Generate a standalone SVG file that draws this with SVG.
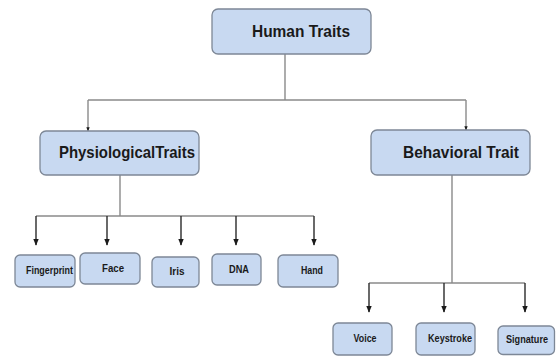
<svg xmlns="http://www.w3.org/2000/svg" width="556" height="356" viewBox="0 0 556 356">
<style>
.box{fill:#c8d9f1;stroke:#7d8796;stroke-width:1.3}
.t1{font-family:"Liberation Sans",Arial,sans-serif;font-weight:bold;font-size:17px;fill:#1a1a1a;text-anchor:middle}
.t2{font-family:"Liberation Sans",Arial,sans-serif;font-weight:bold;font-size:10.5px;fill:#1a1a1a;text-anchor:middle}
.ln{stroke:#8a8a8a;stroke-width:1.4;fill:none}
.ar{stroke:#2a2a2a;stroke-width:1.4;fill:none}
</style>
<defs>
<marker id="ah" viewBox="0 0 10 10" refX="9" refY="5" markerWidth="5" markerHeight="5" orient="auto"><path d="M0,1 L10,5 L0,9 Z" fill="#1a1a1a"/></marker>
<marker id="sm" viewBox="0 0 10 10" refX="9" refY="5" markerWidth="3" markerHeight="3" orient="auto"><path d="M0,1 L10,5 L0,9 Z" fill="#1a1a1a"/></marker>
</defs>
<rect width="556" height="356" fill="#ffffff"/>
<g id="connectors">
<path class="ln" d="M285,54 V100 M88,100 H466"/>
<path class="ln" d="M88,100 V131" marker-end="url(#sm)"/>
<path class="ln" d="M466,100 V130" marker-end="url(#sm)"/>
<path class="ln" d="M120,175 V216 M36,216 H314"/>
<path class="ar" d="M36,216 V245" marker-end="url(#ah)"/>
<path class="ar" d="M107,216 V245" marker-end="url(#ah)"/>
<path class="ar" d="M181,216 V245" marker-end="url(#ah)"/>
<path class="ar" d="M236,216 V245" marker-end="url(#ah)"/>
<path class="ar" d="M314,216 V245" marker-end="url(#ah)"/>
<path class="ln" d="M452,175 V283 M369,283 H525"/>
<path class="ar" d="M369,283 V312" marker-end="url(#ah)"/>
<path class="ar" d="M444,283 V312" marker-end="url(#ah)"/>
<path class="ar" d="M525,283 V312" marker-end="url(#ah)"/>
</g>
<g id="human-traits"><rect class="box" x="212" y="9" width="159" height="45" rx="6"/><text class="t1" x="301" y="37" textLength="98" lengthAdjust="spacingAndGlyphs">Human Traits</text></g>
<g id="physiological"><rect class="box" x="40" y="131" width="159" height="44" rx="6"/><text class="t1" x="127" y="158" textLength="136" lengthAdjust="spacingAndGlyphs">PhysiologicalTraits</text></g>
<g id="behavioral"><rect class="box" x="371" y="130" width="159" height="45" rx="6"/><text class="t1" x="461" y="158" textLength="116" lengthAdjust="spacingAndGlyphs">Behavioral Trait</text></g>
<g id="fingerprint"><rect class="box" x="15" y="255" width="60" height="32" rx="5"/><text class="t2" x="49.5" y="274" textLength="47" lengthAdjust="spacingAndGlyphs">Fingerprint</text></g>
<g id="face"><rect class="box" x="80" y="253" width="60" height="31" rx="5"/><text class="t2" x="113" y="272" textLength="22" lengthAdjust="spacingAndGlyphs">Face</text></g>
<g id="iris"><rect class="box" x="152" y="257" width="47" height="30" rx="5"/><text class="t2" x="177" y="275" textLength="15" lengthAdjust="spacingAndGlyphs">Iris</text></g>
<g id="dna"><rect class="box" x="212" y="254" width="49" height="31" rx="5"/><text class="t2" x="239" y="273" textLength="20" lengthAdjust="spacingAndGlyphs">DNA</text></g>
<g id="hand"><rect class="box" x="278" y="255" width="60" height="32" rx="5"/><text class="t2" x="312" y="274" textLength="22" lengthAdjust="spacingAndGlyphs">Hand</text></g>
<g id="voice"><rect class="box" x="333" y="323" width="59" height="32" rx="5"/><text class="t2" x="365" y="342" textLength="23" lengthAdjust="spacingAndGlyphs">Voice</text></g>
<g id="keystroke"><rect class="box" x="416" y="323" width="59" height="32" rx="5"/><text class="t2" x="450" y="342" textLength="44" lengthAdjust="spacingAndGlyphs">Keystroke</text></g>
<g id="signature"><rect class="box" x="498" y="326" width="56.5" height="28.5" rx="5"/><text class="t2" x="527" y="343" textLength="42" lengthAdjust="spacingAndGlyphs">Signature</text></g>
</svg>
